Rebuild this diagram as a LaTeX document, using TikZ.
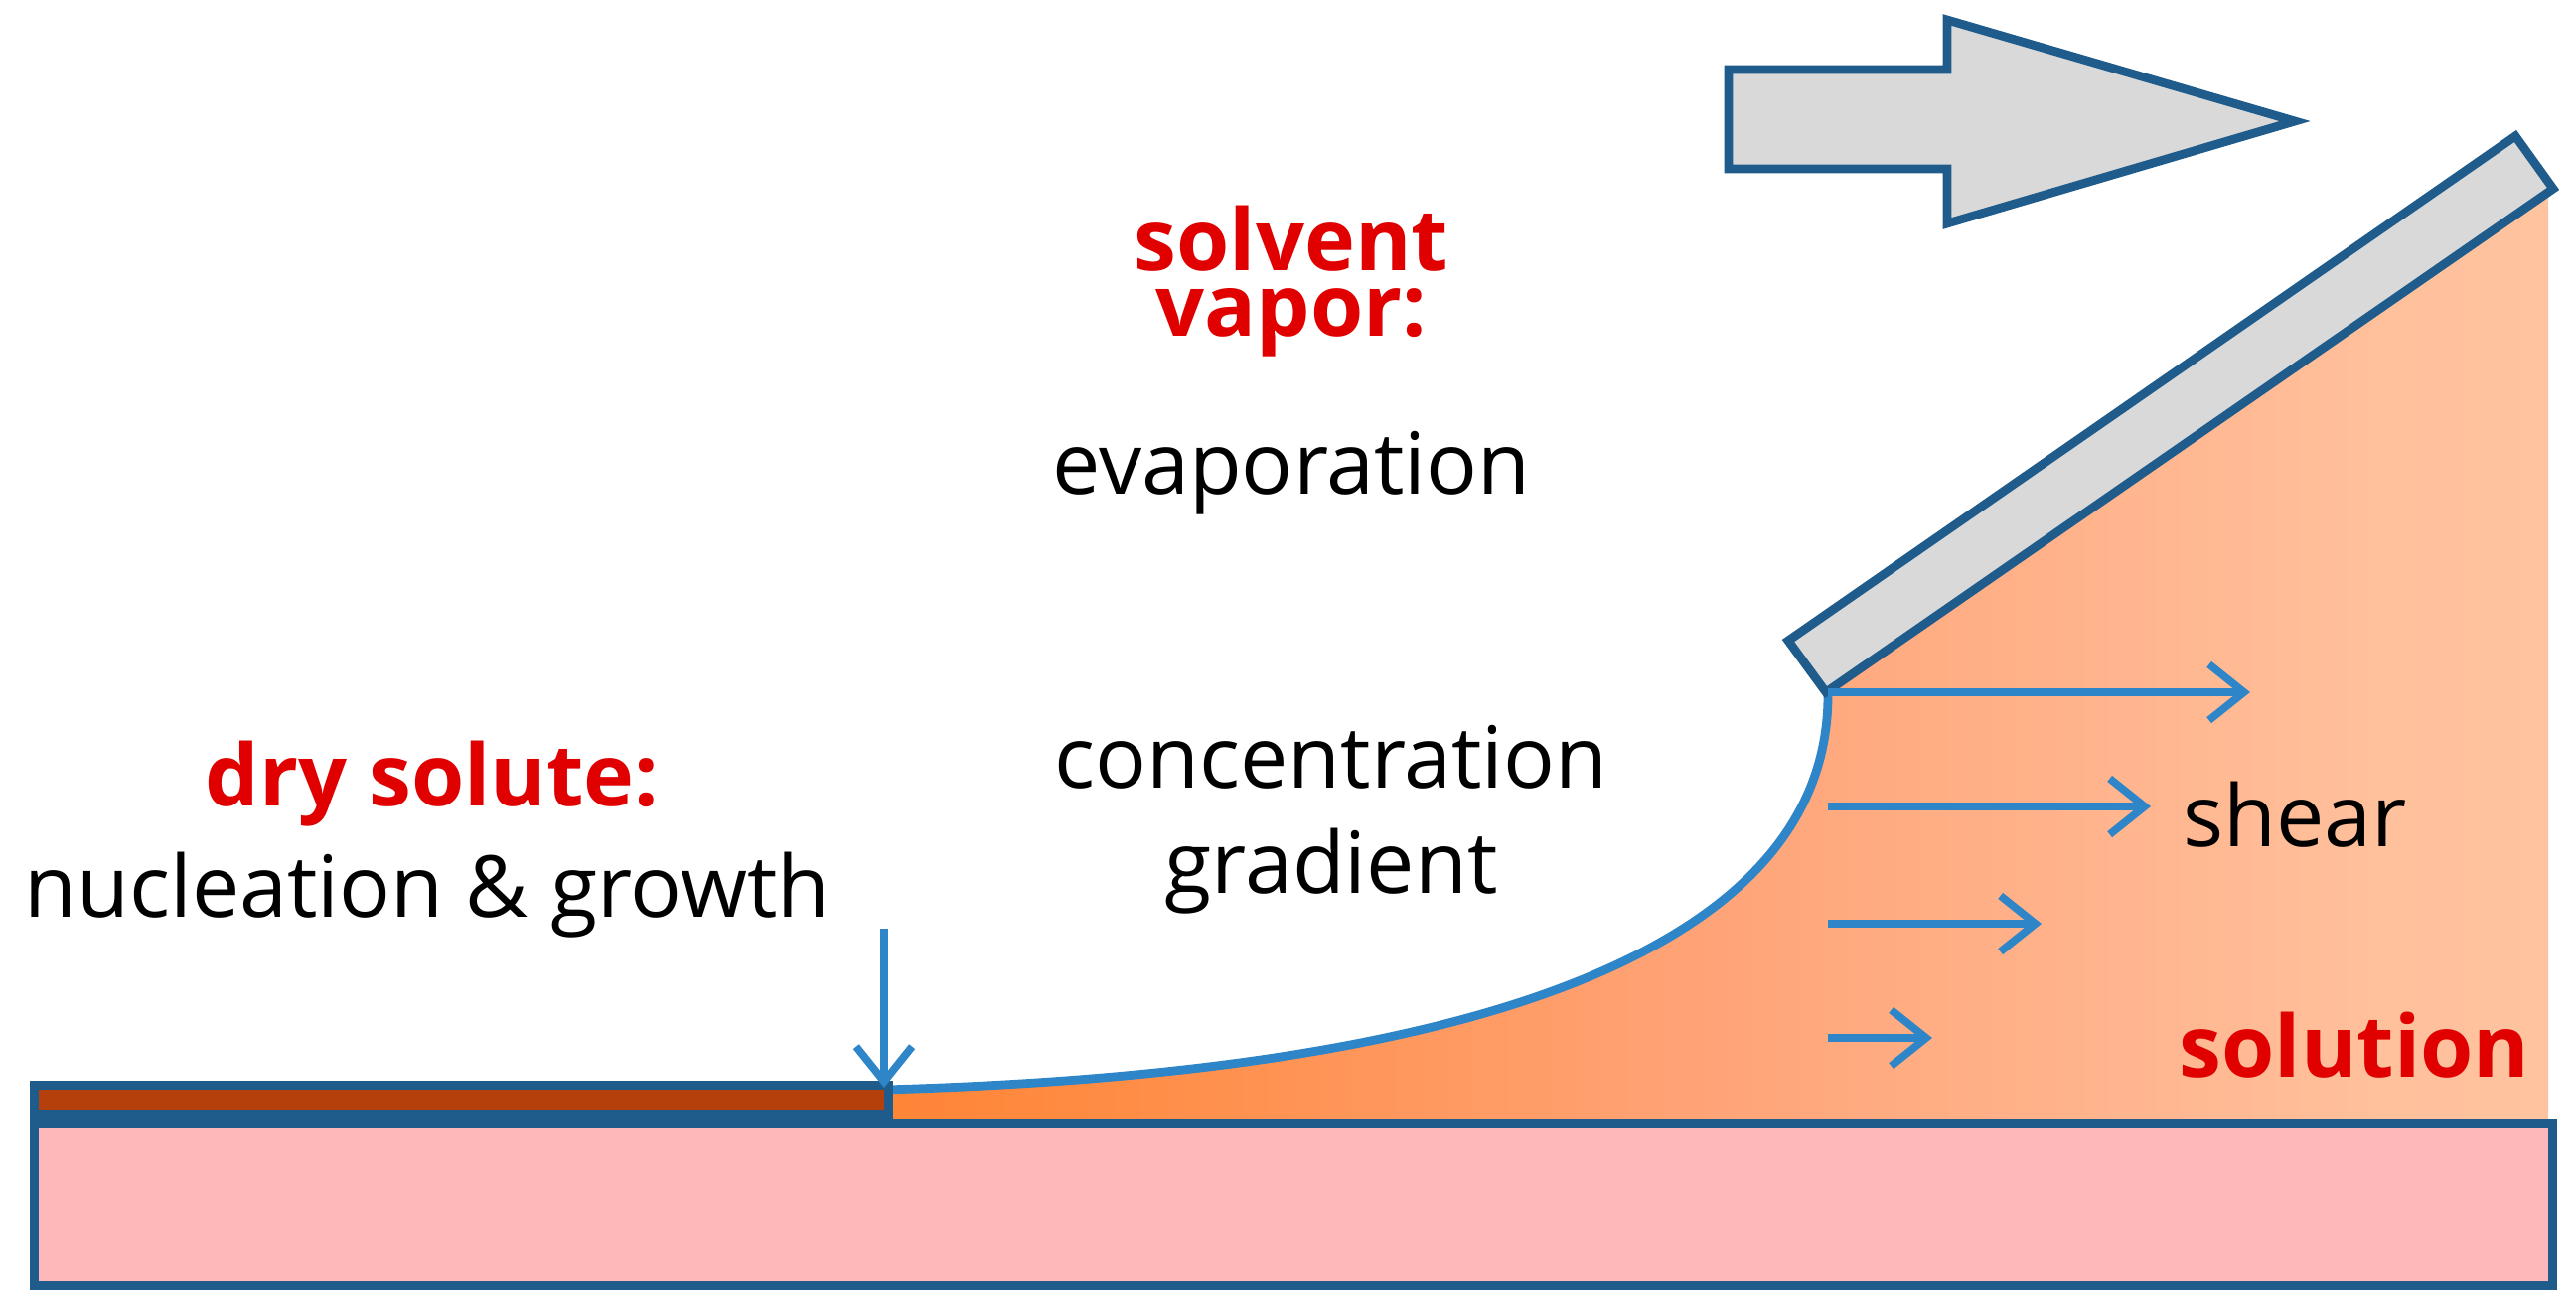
\documentclass[tikz,border=0pt]{standalone}
\usepackage{fontspec}
\setmainfont{Open Sans}
\usetikzlibrary{arrows.meta}
\definecolor{edge}{HTML}{1F5C8C}
\definecolor{flow}{HTML}{2E86C8}
\definecolor{redt}{HTML}{E00000}
\definecolor{pinkf}{HTML}{FFB8BA}
\definecolor{brownf}{HTML}{B5400C}
\definecolor{greyf}{HTML}{D9D9D9}
\definecolor{o1}{HTML}{FF7418}
\definecolor{o2}{HTML}{FF8A40}
\definecolor{o3}{HTML}{FFA478}
\definecolor{o4}{HTML}{FFC09C}
\definecolor{o5}{HTML}{FFD2AC}
\pgfdeclarehorizontalshading{sol}{100bp}{color(0bp)=(o1);color(10bp)=(o1);color(30bp)=(o2);color(50bp)=(o3);color(70bp)=(o4);color(100bp)=(o5)}
\tikzset{
  box/.style={draw=edge,line width=2.5pt},
  flowarrow/.style={draw=flow,line width=2.2pt,-{Straight Barb[length=10pt,width=16pt]}},
  redlab/.style={text=redt,font=\fontsize{24.5}{28}\selectfont\bfseries},
  blklab/.style={text=black,font=\fontsize{24.5}{28}\selectfont},
}
\begin{document}
\begin{tikzpicture}[x=0.01cm,y=-0.01cm]
\useasboundingbox (0,0) rectangle (2593,1323);
% solution
\shade[shading=sol] (890,1097) .. controls (1500,1080) and (1840,950) .. (1840,700) -- (1838,697) -- (2565,190) -- (2565,1127) -- (890,1127) -- cycle;
\draw[flow,line width=2.5pt] (890,1097) .. controls (1500,1080) and (1840,950) .. (1840,700);
% substrate
\node[box,fill=pinkf,minimum width=2535*0.01cm,minimum height=163*0.01cm,anchor=north west,inner sep=0] (sub) at (30,1127) {};
\node[box,fill=brownf,minimum width=860*0.01cm,minimum height=30*0.01cm,anchor=south west,inner sep=0] (film) at (30,1127) {};
% blade
\draw[box,fill=greyf] (1800,645) -- (1838,697) -- (2570,190) -- (2532,137) -- cycle;
% big arrow
\draw[box,fill=greyf] (1740,70) -- (1960,70) -- (1960,20) -- (2310,122) -- (1960,225) -- (1960,170) -- (1740,170) -- cycle;
% flow arrows
\coordinate (a1) at (1840,697); \coordinate (b1) at (2265,697);
\coordinate (a2) at (1840,812); \coordinate (b2) at (2165,812);
\coordinate (a3) at (1840,930); \coordinate (b3) at (2055,930);
\coordinate (a4) at (1840,1045); \coordinate (b4) at (1945,1045);
\draw[flowarrow] (a1) -- (b1);
\draw[flowarrow] (a2) -- (b2);
\draw[flowarrow] (a3) -- (b3);
\draw[flowarrow] (a4) -- (b4);
\coordinate (d0) at (890,935); \coordinate (d1) at (890,1095);
\draw[flowarrow] (d0) -- (d1);
% texts
\node[redlab] (t1) at (1300,240) {solvent};
\node[redlab] (t2) at (1300,325) {vapor:};
\node[blklab] (t3) at (1300,476) {evaporation};
\node[blklab] (t4) at (1340,762) {concentration};
\node[blklab] (t5) at (1340,877) {gradient};
\node[redlab] (t6) at (435,789) {dry solute:};
\node[blklab] (t7) at (430,901) {nucleation \& growth};
\node[blklab] (t8) at (2310,820) {shear};
\node[redlab] (t9) at (2370,1052) {solution};
\end{tikzpicture}
\end{document}
